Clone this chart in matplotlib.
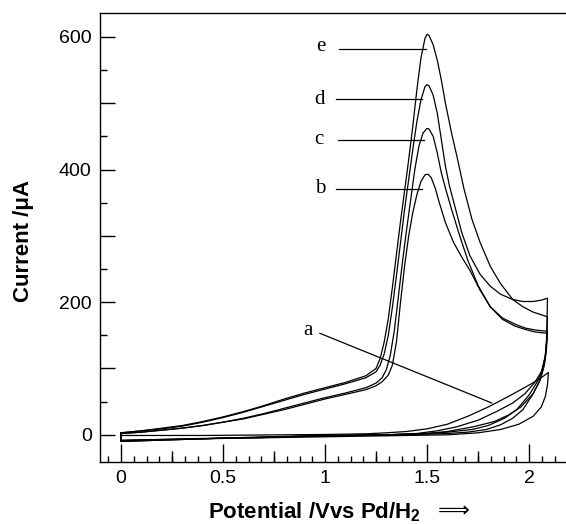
import matplotlib
matplotlib.use("Agg")
import matplotlib.pyplot as plt
from matplotlib.ticker import MultipleLocator, FuncFormatter

plt.rcParams['font.family'] = ['Liberation Sans', 'DejaVu Sans']
plt.rcParams['mathtext.fontset'] = 'custom'
plt.rcParams['mathtext.rm'] = 'Liberation Sans'
plt.rcParams['mathtext.bf'] = 'Liberation Sans:bold'

# ---- data (potential V, current uA) ----
e_fwd_x = [0, 0.1, 0.2, 0.3, 0.4, 0.5, 0.6, 0.7, 0.8, 0.9, 1.0, 1.1, 1.2, 1.25, 1.27, 1.29, 1.31, 1.33, 1.35,
           1.37, 1.39, 1.41, 1.43, 1.45, 1.47, 1.49, 1.50, 1.51, 1.53, 1.55, 1.57, 1.59, 1.62, 1.65, 1.68,
           1.72, 1.76, 1.81, 1.86, 1.92, 1.97, 2.02, 2.06, 2.09]
e_fwd_y = [3, 6, 10, 14, 20, 27, 35, 44, 54, 63, 71, 79, 89, 100, 115, 140, 175, 222, 272,
           322, 368, 415, 465, 520, 568, 598, 604, 602, 588, 565, 535, 500, 455, 415, 372,
           325, 290, 254, 228, 204, 193, 185, 181, 178]
e_rev_x = [2.09, 2.087, 2.08, 2.065, 2.04, 2.0, 1.94, 1.88, 1.80, 1.72, 1.6, 1.5, 1.3, 1.1, 0.9, 0.7, 0.5, 0.3, 0.1, 0.0]
e_rev_y = [178, 145, 120, 98, 80, 60, 38, 25, 14, 8, 4, 2, 0, -1, -2, -4, -5, -7, -8, -9]

d_fwd_x = [0, 0.1, 0.2, 0.3, 0.4, 0.5, 0.6, 0.7, 0.8, 0.9, 1.0, 1.1, 1.2, 1.25, 1.27, 1.29, 1.31, 1.33, 1.35,
           1.37, 1.39, 1.41, 1.43, 1.45, 1.47, 1.49, 1.50, 1.51, 1.53, 1.55, 1.57, 1.59, 1.61, 1.64, 1.67,
           1.71, 1.76, 1.81, 1.86, 1.92, 1.97, 2.02, 2.06, 2.09]
d_fwd_y = [3, 6, 9, 13, 19, 26, 34, 43, 52, 61, 69, 77, 86, 95, 105, 122, 150, 192, 240,
           290, 340, 385, 430, 472, 505, 525, 528, 526, 512, 485, 445, 405, 375, 340, 305,
           270, 242, 224, 212, 204, 201, 201, 203, 206]
d_rev_x = [2.09, 2.088, 2.085, 2.078, 2.065, 2.05, 2.02, 1.97, 1.92, 1.86, 1.79, 1.7, 1.6, 1.5, 1.3, 1.1, 0.9, 0.7, 0.5, 0.3, 0.1, 0.0]
d_rev_y = [206, 170, 140, 115, 95, 80, 62, 38, 25, 15, 8, 4, 2, 1, 0, -1, -2, -3, -5, -6, -8, -9]

c_fwd_x = [0, 0.1, 0.2, 0.3, 0.4, 0.5, 0.6, 0.7, 0.8, 0.9, 1.0, 1.1, 1.2, 1.25, 1.28, 1.30, 1.32, 1.34, 1.36,
           1.38, 1.40, 1.42, 1.44, 1.46, 1.48, 1.50, 1.51, 1.53, 1.55, 1.57, 1.59, 1.62, 1.66, 1.70, 1.75,
           1.81, 1.87, 1.93, 1.98, 2.03, 2.09]
c_fwd_y = [2, 4, 7, 10, 14, 19, 25, 32, 40, 48, 56, 63, 71, 78, 86, 98, 120, 158, 210,
           262, 310, 355, 400, 435, 455, 462, 461, 450, 425, 395, 372, 340, 300, 263, 225,
           193, 176, 167, 161, 158, 156]
c_rev_x = [2.09, 2.085, 2.075, 2.055, 2.02, 1.96, 1.90, 1.83, 1.725, 1.6, 1.5, 1.3, 1.1, 0.9, 0.7, 0.5, 0.3, 0.1, 0.0]
c_rev_y = [156, 128, 105, 83, 62, 42, 30, 20, 12, 5, 2, 0, -1, -2, -4, -5, -7, -9, -10]

b_fwd_x = [0, 0.1, 0.2, 0.3, 0.4, 0.5, 0.6, 0.7, 0.8, 0.9, 1.0, 1.1, 1.2, 1.25, 1.28, 1.31, 1.33, 1.35, 1.37,
           1.39, 1.41, 1.43, 1.45, 1.47, 1.49, 1.505, 1.52, 1.54, 1.56, 1.59, 1.63, 1.67, 1.71, 1.76, 1.81,
           1.87, 1.93, 1.98, 2.03, 2.09]
b_fwd_y = [2, 4, 7, 10, 14, 19, 24, 31, 38, 46, 54, 61, 68, 74, 80, 90, 105, 140, 200,
           255, 300, 335, 362, 382, 392, 393, 388, 372, 350, 320, 290, 268, 248, 218, 193,
           174, 164, 159, 155, 153]
b_rev_x = [2.09, 2.08, 2.06, 2.03, 1.98, 1.92, 1.84, 1.75, 1.645, 1.55, 1.45, 1.3, 1.1, 0.9, 0.7, 0.5, 0.3, 0.1, 0.0]
b_rev_y = [153, 118, 95, 80, 62, 48, 35, 22, 12, 6, 2, 0, -1, -2, -4, -5, -7, -9, -10]

a_fwd_x = [0, 0.2, 0.4, 0.6, 0.8, 1.0, 1.2, 1.3, 1.4, 1.5, 1.6, 1.7, 1.8, 1.9, 2.0, 2.05, 2.095]
a_fwd_y = [-1, -1, -1, -0.5, 0, 0.5, 1.5, 3, 5, 9, 16, 28, 42, 58, 75, 84, 94]
a_rev_x = [2.095, 2.09, 2.08, 2.06, 2.02, 1.95, 1.86, 1.75, 1.6, 1.4, 1.2, 1.0, 0.8, 0.6, 0.4, 0.2, 0.0]
a_rev_y = [94, 75, 58, 42, 28, 16, 8, 3, 0, -1, -2, -3, -4, -5, -6, -7, -8]

curves = [
    (a_fwd_x, a_fwd_y, a_rev_x, a_rev_y),
    (b_fwd_x, b_fwd_y, b_rev_x, b_rev_y),
    (c_fwd_x, c_fwd_y, c_rev_x, c_rev_y),
    (d_fwd_x, d_fwd_y, d_rev_x, d_rev_y),
    (e_fwd_x, e_fwd_y, e_rev_x, e_rev_y),
]

fig = plt.figure(figsize=(5.66, 5.24), dpi=100)
W, H = 566, 524
ax = fig.add_axes([100 / W, (H - 462) / H, 466 / W, (462 - 13) / H])

for fx, fy, rx, ry in curves:
    xs = list(fx) + list(rx) + [fx[0]]
    ys = list(fy) + list(ry) + [fy[0]]
    ax.plot(xs, ys, color='black', lw=0.9)

ax.set_xlim(-0.103, 2.181)
ax.set_ylim(-41, 636)

ax.spines['right'].set_visible(False)
for s in ['left', 'bottom', 'top']:
    ax.spines[s].set_linewidth(1.0)

ax.xaxis.set_major_locator(MultipleLocator(0.5))
ax.xaxis.set_minor_locator(MultipleLocator(0.0625))
ax.yaxis.set_major_locator(MultipleLocator(100))
ax.yaxis.set_minor_locator(MultipleLocator(50))
ax.yaxis.set_major_formatter(FuncFormatter(lambda v, p: f"{int(v)}" if int(round(v)) % 200 == 0 else ""))
ax.xaxis.set_major_formatter(FuncFormatter(lambda v, p: f"{v:g}"))
ax.tick_params(axis='x', which='major', direction='in', length=13, width=1, labelsize=14, pad=6)
ax.tick_params(axis='x', which='minor', direction='in', length=4, width=1)
ax.tick_params(axis='y', which='major', direction='in', length=11, width=1, labelsize=14, pad=6)
ax.tick_params(axis='y', which='minor', direction='in', length=5, width=1)
ax.tick_params(top=False, right=False, which='both')

sec = ax.secondary_xaxis('bottom')
sec.set_xticks([0.25, 0.75, 1.25, 1.75])
sec.tick_params(direction='in', length=8, width=1, labelbottom=False)
sec.spines['bottom'].set_visible(False)

fig.text(23.5 / W, 1 - 241 / H, "Current /\u03bcA", fontsize=16, fontweight='bold',
         rotation=90, ha='center', va='center')
fig.text(208 / W, 1 - 512 / H, "Potential /Vvs Pd/H$_\\mathbf{2}$", fontsize=16,
         fontweight='bold', ha='left', va='center')
fig.text(454 / W, 1 - 511 / H, "\u27f9", fontsize=16, ha='center', va='center',
         family=['DejaVu Sans'])

# curve labels
serif = 'Liberation Serif'
lab = [('e', 0.977, 585, 1.07, 1.494, 581),
       ('d', 0.973, 506, 1.054, 1.474, 506),
       ('c', 0.970, 445, 1.062, 1.485, 445),
       ('b', 0.975, 372, 1.054, 1.474, 370)]
for t, tx, ty, x0, x1, ly in lab:
    ax.text(tx, ty, t, family=serif, fontsize=15, ha='center', va='center')
    ax.plot([x0, x1], [ly, ly], color='black', lw=0.9)
ax.text(0.918, 158, 'a', family=serif, fontsize=15, ha='center', va='center')
ax.plot([0.975, 1.817], [153, 48], color='black', lw=0.9)

fig.savefig('out.png', dpi=100)
